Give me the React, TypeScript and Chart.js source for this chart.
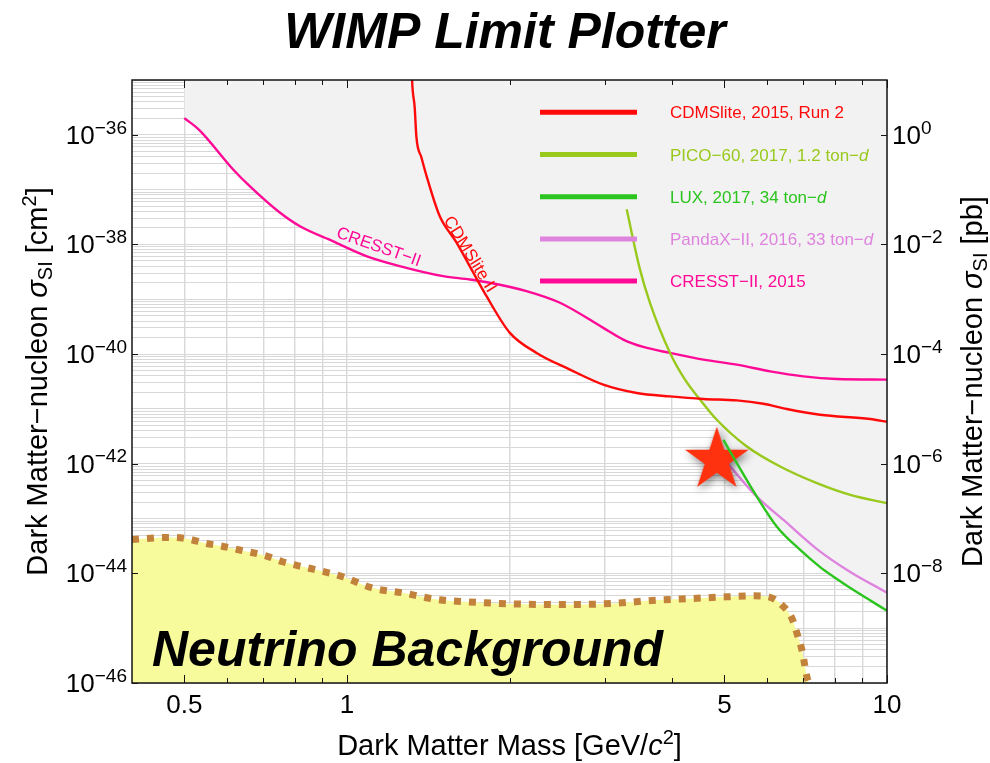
import React, { useEffect, useRef } from "react";
import { Chart, registerables } from "chart.js";

Chart.register(...registerables);

const FONT = '"Liberation Sans", Arial, Helvetica, sans-serif';

// ---- data (mass in GeV/c^2, cross-section in cm^2) ----
const cdmsMass = [1.317, 1.32, 1.335, 1.345, 1.374, 1.413, 1.485, 1.595, 1.713, 1.813, 2.003, 2.245, 2.588, 2.983, 3.44, 3.966, 4.571, 5.27, 5.904, 6.525, 7.52, 9.31, 10];
const cdmsSigma = [2.42e-35, 1.04e-35, 3.17e-36, 8.96e-37, 3.86e-37, 1.44e-37, 3.3e-38, 1.09e-38, 3.09e-39, 1.14e-39, 2.44e-40, 1.05e-40, 5.21e-41, 2.77e-41, 1.95e-41, 1.69e-41, 1.52e-41, 1.43e-41, 1.24e-41, 9.95e-42, 7.83e-42, 6.53e-42, 5.83e-42];

const picoMass = [3.296, 3.488, 3.64, 3.966, 4.227, 4.508, 4.84, 5.502, 6.342, 7.418, 8.55, 10];
const picoSigma = [4.38e-38, 3.51e-39, 8.63e-40, 1.05e-40, 3.42e-41, 1.47e-41, 6.34e-42, 2.06e-42, 8.89e-43, 4.42e-43, 2.7e-43, 1.9e-43];

const luxMass = [4.978, 5.27, 5.741, 6.254, 6.907, 7.52, 7.962, 8.67, 10];
const luxSigma = [2.73e-42, 1.03e-42, 2.51e-43, 7.11e-44, 2.67e-44, 1.3e-44, 8.67e-45, 4.95e-45, 2.09e-45];

const pandaMass = [4.868, 5.189, 5.741, 6.432, 7.418, 8.55, 10];
const pandaSigma = [1.64e-42, 7.73e-43, 2.51e-43, 9.42e-44, 2.77e-44, 1.06e-44, 4.46e-45];

const cresstMass = [0.5, 0.533, 0.615, 0.66, 0.75, 0.817, 0.941, 1.086, 1.252, 1.507, 1.688, 1.839, 2.15, 2.48, 2.983, 3.249, 3.538, 3.966, 4.571, 5.27, 6.075, 7.005, 8.08, 10];
const cresstSigma = [2.02e-36, 1.22e-36, 2.36e-37, 1.17e-37, 3.86e-38, 2.17e-38, 1.15e-38, 6.14e-39, 4.03e-39, 2.64e-39, 2.3e-39, 2.0e-39, 1.41e-39, 8.63e-40, 3.01e-40, 1.84e-40, 1.35e-40, 1.05e-40, 7.93e-41, 6.43e-41, 4.85e-41, 3.93e-41, 3.52e-41, 3.42e-41];

const nuMass = [0.4, 0.4494, 0.479, 0.511, 0.547, 0.581, 0.633, 0.71, 0.76, 0.817, 0.864, 0.982, 1.116, 1.268, 1.465, 1.665, 1.919, 2.343, 2.701, 3.109, 3.746, 4.375, 5.051, 5.657, 6.033, 6.389, 6.67, 6.813, 6.959, 7.109, 7.163];
const nuSigma = [4.15e-44, 4.48e-44, 4.52e-44, 4.19e-44, 3.53e-44, 3.2e-44, 2.67e-44, 2.07e-44, 1.63e-44, 1.36e-44, 1.2e-44, 8.67e-45, 5.38e-45, 4.42e-45, 3.35e-45, 3.03e-45, 2.83e-45, 2.71e-45, 2.71e-45, 2.83e-45, 3.25e-45, 3.49e-45, 3.73e-45, 3.89e-45, 3.73e-45, 2.63e-45, 1.5e-45, 8.0e-46, 3.95e-46, 1.29e-46, 1e-46];

const starMass = [4.84];
const starSigma = [1.17e-42];

const seriesNames = ["CDMSlite, 2015, Run 2", "PICO−60, 2017, 1.2 ton−d", "LUX, 2017, 34 ton−d", "PandaX−II, 2016, 33 ton−d", "CRESST−II, 2015"];
const seriesItalicD = [false, true, true, true, false];
const seriesColors = ["#ff0a0a", "#98c91c", "#2cc41e", "#de84de", "#ff0a96"];

const curveLabelText = ["CRESST−II", "CDMSlite II"];
const curveLabelMass = [1.145, 1.688];
const curveLabelSigma = [8.85e-39, 6.6e-39];
const curveLabelAngle = [19.4, 58.5];
const curveLabelSeries = [4, 0];

// ---- axes ----
const xMin = 0.4;
const xMax = 10;
const yMin = 1e-46;
const yMax = 1e-35;
const y2Min = 1e-10; // pb
const y2Max = 10;
const xGridValues = [0.5, 0.6, 0.7, 0.8, 0.9, 1, 2, 3, 4, 5, 6, 7, 8, 9, 10];
const xLabelValues = [0.5, 1, 5, 10];
const xLabelTexts = ["0.5", "1", "5", "10"];
const yMajorExp = [-46, -44, -42, -40, -38, -36];
const y2MajorExp = [-8, -6, -4, -2, 0];
const yDecades = [-46, -45, -44, -43, -42, -41, -40, -39, -38, -37, -36];
const yMultiples = [1, 2, 3, 4, 5, 6, 7, 8, 9];

const EXCL = "#f2f2f2";
const NU_FILL = "#f8fb9c";
const NU_LINE = "#c3823c";
const STAR = "#ff3210";

type Run = { t: string; f: string; dy?: number };
const fnt = (size: number, style = "") => `${style} ${size}px ${FONT}`.trim();

function runsWidth(ctx: CanvasRenderingContext2D, runs: Run[]) {
  let w = 0;
  for (const r of runs) {
    ctx.font = r.f;
    w += ctx.measureText(r.t).width;
  }
  return w;
}
function drawRuns(ctx: CanvasRenderingContext2D, runs: Run[], x: number, y: number, align: "left" | "center" | "right") {
  const w = runsWidth(ctx, runs);
  let cx = align === "left" ? x : align === "center" ? x - w / 2 : x - w;
  ctx.textAlign = "left";
  ctx.textBaseline = "alphabetic";
  for (const r of runs) {
    ctx.font = r.f;
    ctx.fillText(r.t, cx, y + (r.dy || 0));
    cx += ctx.measureText(r.t).width;
  }
}
const expText = (e: number) => (e < 0 ? "−" + -e : String(e));

function makeStar(color: string): HTMLCanvasElement {
  const R = 33.5;
  const r = R * 0.382;
  const size = 100;
  const c = document.createElement("canvas");
  c.width = size;
  c.height = size;
  const g = c.getContext("2d")!;
  g.shadowColor = "rgba(0,0,0,0.5)";
  g.shadowBlur = 9;
  g.shadowOffsetX = 2;
  g.shadowOffsetY = 3;
  g.beginPath();
  for (let i = 0; i < 10; i++) {
    const ang = -Math.PI / 2 + (i * Math.PI) / 5;
    const rad = i % 2 === 0 ? R : r;
    const px = size / 2 + rad * Math.cos(ang);
    const py = size / 2 + rad * Math.sin(ang);
    if (i === 0) g.moveTo(px, py);
    else g.lineTo(px, py);
  }
  g.closePath();
  g.fillStyle = color;
  g.fill();
  return c;
}

const decor = {
  id: "decor",
  afterDraw(chart: any) {
    const ctx: CanvasRenderingContext2D = chart.ctx;
    const a = chart.chartArea;
    const xs = chart.scales.x;
    const ys = chart.scales.y;
    const y2s = chart.scales.y2;
    ctx.save();

    // curve labels
    for (let i = 0; i < curveLabelText.length; i++) {
      const px = xs.getPixelForValue(curveLabelMass[i]);
      const py = ys.getPixelForValue(curveLabelSigma[i]);
      ctx.save();
      ctx.translate(px, py);
      ctx.rotate((curveLabelAngle[i] * Math.PI) / 180);
      ctx.font = fnt(17);
      ctx.fillStyle = seriesColors[curveLabelSeries[i]];
      ctx.textAlign = "center";
      ctx.textBaseline = "middle";
      ctx.fillText(curveLabelText[i], 0, 0);
      ctx.restore();
    }

    // legend
    const legLeft = a.right - 347;
    const legLen = 97;
    const legText = a.right - 217;
    for (let i = 0; i < seriesNames.length; i++) {
      const ly = a.top + 32.3 + i * 42.2;
      ctx.strokeStyle = seriesColors[i];
      ctx.lineWidth = 5;
      ctx.beginPath();
      ctx.moveTo(legLeft, ly);
      ctx.lineTo(legLeft + legLen, ly);
      ctx.stroke();
      ctx.fillStyle = seriesColors[i];
      const name = seriesNames[i];
      const runs: Run[] = seriesItalicD[i]
        ? [{ t: name.slice(0, -1), f: fnt(17) }, { t: name.slice(-1), f: fnt(17, "italic") }]
        : [{ t: name, f: fnt(17) }];
      drawRuns(ctx, runs, legText, ly + 6, "left");
    }

    // neutrino text
    ctx.fillStyle = "#000";
    ctx.font = fnt(50, "italic bold");
    ctx.textAlign = "left";
    ctx.textBaseline = "alphabetic";
    ctx.fillText("Neutrino Background", a.left + 20, a.bottom - 17);

    // frame
    ctx.strokeStyle = "#141414";
    ctx.lineWidth = 1.5;
    ctx.strokeRect(a.left, a.top, a.right - a.left, a.bottom - a.top);

    // ticks
    ctx.lineWidth = 1;
    ctx.beginPath();
    for (const v of xGridValues) {
      const px = Math.round(xs.getPixelForValue(v)) + 0.5;
      const len = xLabelValues.includes(v) ? 8 : 5;
      ctx.moveTo(px, a.bottom);
      ctx.lineTo(px, a.bottom - len);
      ctx.moveTo(px, a.top);
      ctx.lineTo(px, a.top + len);
    }
    for (const e of yMajorExp) {
      const py = Math.round(ys.getPixelForValue(Math.pow(10, e))) + 0.5;
      ctx.moveTo(a.left, py);
      ctx.lineTo(a.left + 6, py);
    }
    for (const e of y2MajorExp) {
      const py = Math.round(y2s.getPixelForValue(Math.pow(10, e))) + 0.5;
      ctx.moveTo(a.right, py);
      ctx.lineTo(a.right - 6, py);
    }
    ctx.stroke();

    // tick labels
    ctx.fillStyle = "#000";
    for (const e of yMajorExp) {
      const py = ys.getPixelForValue(Math.pow(10, e));
      drawRuns(ctx, [{ t: "10", f: fnt(26) }, { t: expText(e), f: fnt(19), dy: -10.3 }], a.left - 5, py + 9, "right");
    }
    for (const e of y2MajorExp) {
      const py = y2s.getPixelForValue(Math.pow(10, e));
      drawRuns(ctx, [{ t: "10", f: fnt(26) }, { t: expText(e), f: fnt(19), dy: -10.3 }], a.right + 5, py + 9, "left");
    }
    for (let i = 0; i < xLabelValues.length; i++) {
      const px = xs.getPixelForValue(xLabelValues[i]);
      drawRuns(ctx, [{ t: xLabelTexts[i], f: fnt(26) }], px, a.bottom + 30, "center");
    }

    // axis titles
    const xTitle: Run[] = [
      { t: "Dark Matter Mass [GeV/", f: fnt(29) },
      { t: "c", f: fnt(29, "italic") },
      { t: "2", f: fnt(20), dy: -11 },
      { t: "]", f: fnt(29) },
    ];
    drawRuns(ctx, xTitle, (a.left + a.right) / 2, a.bottom + 72, "center");

    const yTitle = (unit: string, sq: boolean): Run[] => {
      const r: Run[] = [
        { t: "Dark Matter−nucleon ", f: fnt(29) },
        { t: "σ", f: fnt(29, "italic") },
        { t: "SI", f: fnt(20), dy: 5 },
        { t: " [" + unit, f: fnt(29) },
      ];
      if (sq) r.push({ t: "2", f: fnt(20), dy: -11 });
      r.push({ t: "]", f: fnt(29) });
      return r;
    };
    const cy = (a.top + a.bottom) / 2;
    ctx.save();
    ctx.translate(a.left - 85, cy);
    ctx.rotate(-Math.PI / 2);
    drawRuns(ctx, yTitle("cm", true), 0, 0, "center");
    ctx.restore();
    ctx.save();
    ctx.translate(a.right + 95, cy);
    ctx.rotate(-Math.PI / 2);
    drawRuns(ctx, yTitle("pb", false), 0, 0, "center");
    ctx.restore();

    ctx.restore();
  },
};

function toPoints(mass: number[], sigma: number[]) {
  return mass.map((m, i) => ({ x: m, y: sigma[i] }));
}

export default function App() {
  const ref = useRef<HTMLCanvasElement | null>(null);

  useEffect(() => {
    if (!ref.current) return;
    const star = makeStar(STAR);
    const curve = (i: number, mass: number[], sigma: number[], order: number) => ({
      type: "line",
      label: seriesNames[i],
      data: toPoints(mass, sigma),
      borderColor: seriesColors[i],
      backgroundColor: EXCL,
      borderWidth: 2.4,
      fill: "end",
      pointRadius: 0,
      cubicInterpolationMode: "monotone",
      clip: 0,
      order,
    });
    const yGrid: number[] = [];
    for (const d of yDecades) for (const k of yMultiples) yGrid.push(k * Math.pow(10, d));
    yGrid.push(yMax);

    const chart = new Chart(ref.current, {
      type: "line",
      data: {
        datasets: [
          curve(0, cdmsMass, cdmsSigma, 3),
          curve(1, picoMass, picoSigma, 3),
          curve(2, luxMass, luxSigma, 0),
          curve(3, pandaMass, pandaSigma, 2),
          curve(4, cresstMass, cresstSigma, 3),
          {
            type: "line",
            label: "Neutrino Background",
            data: toPoints(nuMass, nuSigma),
            borderColor: NU_LINE,
            backgroundColor: NU_FILL,
            borderWidth: 7,
            borderDash: [7, 8],
            borderCapStyle: "butt",
            fill: "start",
            pointRadius: 0,
            cubicInterpolationMode: "monotone",
            clip: 0,
            order: 4,
          },
          {
            type: "line",
            label: "Signal",
            data: toPoints(starMass, starSigma),
            showLine: false,
            fill: false,
            pointStyle: star,
            pointRadius: 5,
            order: 1,
          },
        ] as any,
      },
      options: {
        responsive: false,
        animation: false,
        events: [],
        layout: { padding: { left: 20, right: 0, top: 0, bottom: 0 } },
        plugins: {
          filler: { drawTime: "beforeDatasetsDraw" },
          legend: { display: false },
          tooltip: { enabled: false },
          title: {
            display: true,
            text: "WIMP Limit Plotter",
            color: "#000",
            font: { family: FONT, size: 50, weight: "bold", style: "italic", lineHeight: 1.2 },
            padding: { top: 4, bottom: 16 },
          },
        },
        scales: {
          x: {
            type: "logarithmic",
            min: xMin,
            max: xMax,
            border: { display: false },
            grid: { color: "#d8d8d8", lineWidth: 1.4, drawTicks: false },
            ticks: { display: false },
            afterBuildTicks: (s: any) => {
              s.ticks = xGridValues.map((v) => ({ value: v }));
            },
            afterFit: (s: any) => {
              s.height = 80;
            },
          },
          y: {
            type: "logarithmic",
            position: "left",
            min: yMin,
            max: yMax,
            border: { display: false },
            grid: { color: "#d8d8d8", lineWidth: 1, drawTicks: false },
            ticks: { display: false },
            afterBuildTicks: (s: any) => {
              s.ticks = yGrid.map((v) => ({ value: v }));
            },
            afterFit: (s: any) => {
              s.width = 112;
            },
          },
          y2: {
            type: "logarithmic",
            position: "right",
            min: y2Min,
            max: y2Max,
            border: { display: false },
            grid: { display: false, drawTicks: false },
            ticks: { display: false },
            afterFit: (s: any) => {
              s.width = 103;
            },
          },
        },
      } as any,
      plugins: [decor as any],
    });
    return () => chart.destroy();
  }, []);

  return (
    <div style={{ position: "fixed", left: 0, top: 0, width: 990, height: 763, background: "#fff" }}>
      <canvas ref={ref} width={990} height={763} style={{ display: "block", width: 990, height: 763 }} />
    </div>
  );
}
